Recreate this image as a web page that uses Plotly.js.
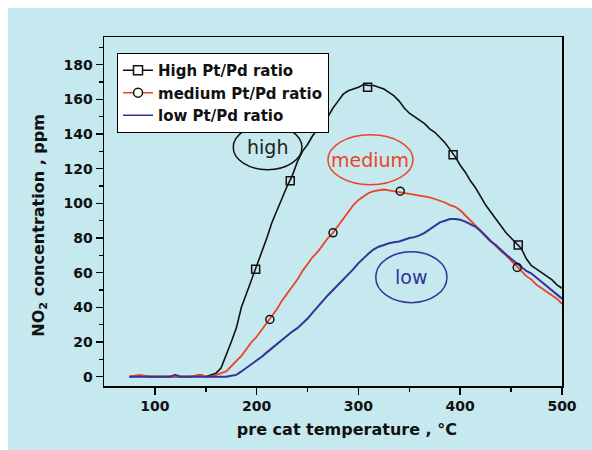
<!DOCTYPE html>
<html>
<head>
<meta charset="utf-8">
<script src="https://cdn.plot.ly/plotly-3.0.1.min.js"></script>
<style>
  html, body { margin: 0; padding: 0; background: #ffffff; }
  #chart { position: absolute; left: 8px; top: 8px; width: 584px; height: 442px; }
</style>
</head>
<body>
<div id="chart"></div>
<script>
// temperatures (°C)
const highX = [75, 85, 95, 105, 115, 125, 135, 145, 150, 155, 160, 165, 170, 175, 180, 185, 190, 195, 200, 205, 210, 215, 220, 225, 230, 235, 240, 245, 250, 255, 260, 265, 270, 275, 280, 285, 290, 295, 300, 305, 310, 315, 320, 325, 330, 335, 340, 345, 350, 355, 360, 365, 370, 375, 380, 385, 390, 395, 400, 405, 410, 415, 420, 425, 430, 435, 440, 445, 450, 455, 460, 465, 470, 475, 480, 485, 490, 495, 500];
const highY = [0, 0.5, 0, 0, 0, 0, 0, 1, 0, 1, 2, 5, 12, 20, 28, 40, 48, 56, 63, 71, 80, 89, 96, 104, 110, 116, 124, 130, 134, 139, 143, 147, 150, 155, 159, 163, 165, 166, 167, 168.5, 168, 168, 167, 166, 164, 162, 159, 155, 152, 150, 148, 146, 143, 141, 138, 135, 131, 127, 122, 118, 113, 109, 104, 99, 95, 91, 87, 83, 80, 77, 74, 68, 64, 62, 60, 58, 56, 53, 51];

const medX = [75, 85, 95, 105, 115, 125, 135, 145, 150, 155, 160, 165, 170, 175, 180, 185, 190, 195, 200, 205, 210, 215, 220, 225, 230, 235, 240, 245, 250, 255, 260, 265, 270, 275, 280, 285, 290, 295, 300, 305, 310, 315, 320, 325, 330, 335, 340, 345, 350, 355, 360, 365, 370, 375, 380, 385, 390, 395, 400, 405, 410, 415, 420, 425, 430, 435, 440, 445, 450, 455, 460, 465, 470, 475, 480, 485, 490, 495, 500];
const medY = [0, 1, 0, 0, 0, 0, 0, 1, 0, 0, 1, 2, 3, 6, 9, 12, 16, 20, 23, 27, 31, 35, 39, 44, 48, 52, 56, 61, 65, 69, 72, 76, 80, 83, 87, 91, 95, 99, 102, 104, 106, 107, 107.5, 108, 107.5, 107, 106.5, 106, 105.5, 105, 104.5, 104, 103.5, 102.5, 101.5, 100.5, 99, 98, 96, 93, 90, 87, 84, 81, 78, 75, 72.5, 70, 67, 64, 61, 58, 56, 53, 51, 49, 47, 45, 42];

const lowX = [75, 85, 95, 105, 115, 120, 125, 135, 145, 155, 165, 170, 175, 180, 185, 190, 195, 200, 205, 210, 215, 220, 225, 230, 235, 240, 245, 250, 255, 260, 265, 270, 275, 280, 285, 290, 295, 300, 305, 310, 315, 320, 325, 330, 335, 340, 345, 350, 355, 360, 365, 370, 375, 380, 385, 390, 395, 400, 405, 410, 415, 420, 425, 430, 435, 440, 445, 450, 455, 460, 465, 470, 475, 480, 485, 490, 495, 500];
const lowY = [0, 0, 0, 0, 0, 1, 0, 0, 0, 0, 0, 0, 0.5, 1, 3, 5, 7, 9, 11.5, 14, 16.5, 19, 21.5, 24, 26, 28, 30.5, 33.5, 37, 40.5, 44, 47, 50, 53, 56, 58.5, 62, 65.5, 68.5, 71, 73.5, 75, 76, 77, 77.5, 78, 79, 80, 80.5, 81.5, 83, 85, 87, 89, 90, 91, 91, 90.5, 89.5, 88, 86.5, 84, 81, 78, 76, 73, 70.5, 68, 65.5, 63.5, 61, 59.5, 57, 55, 52, 50, 47.5, 45];

// symbol markers
const highMarkX = [199, 233, 309, 393, 457];
const highMarkY = [62, 113, 167, 128, 76];
const medMarkX = [213, 275, 341, 456];
const medMarkY = [33, 83, 107, 63];

const seriesNames = ['High Pt/Pd ratio', 'medium Pt/Pd ratio', 'low Pt/Pd ratio'];
const bubbleLabels = ['high', 'medium', 'low'];
const xTitle = 'pre cat temperature , °C';
const yTitle = 'NO<sub>2</sub> concentration , ppm';

const cBlack = '#111111', cRed = '#ec4326', cBlue = '#33339a';
const FB = 'DejaVu Sans, Verdana, sans-serif';
const pad = '&nbsp;&nbsp;&nbsp;&nbsp;&nbsp;';

const traces = [
  {x: highX, y: highY, mode: 'lines', line: {color: cBlack, width: 1.6}, showlegend: false, hoverinfo: 'skip'},
  {x: medX, y: medY, mode: 'lines', line: {color: cRed, width: 1.8}, showlegend: false, hoverinfo: 'skip'},
  {x: lowX, y: lowY, mode: 'lines', line: {color: cBlue, width: 2}, showlegend: false, hoverinfo: 'skip'},
  {x: highMarkX, y: highMarkY, mode: 'markers', marker: {symbol: 'square-open', size: 8, color: cBlack, line: {width: 1.5, color: cBlack}}, showlegend: false},
  {x: medMarkX, y: medMarkY, mode: 'markers', marker: {symbol: 'circle-open', size: 8, color: cBlack, line: {width: 1.5, color: cBlack}}, showlegend: false},
  {x: [null], y: [null], name: seriesNames[0], mode: 'lines+markers', line: {color: cBlack, width: 1.5}, marker: {symbol: 'square', size: 9, color: '#ffffff', line: {width: 1.5, color: cBlack}}},
  {x: [null], y: [null], name: seriesNames[1], mode: 'lines+markers', line: {color: cRed, width: 1.5}, marker: {symbol: 'circle', size: 9, color: '#ffffff', line: {width: 1.5, color: cBlack}}},
  {x: [null], y: [null], name: seriesNames[2], mode: 'lines', line: {color: cBlue, width: 1.5}}
];

const tickFont = {family: FB, size: 14, color: '#111', weight: 'bold'};
const titleFont = {family: FB, size: 16, color: '#111', weight: 'bold'};

const layout = {
  width: 584, height: 442,
  margin: {l: 96, r: 30, t: 29, b: 64},
  paper_bgcolor: '#c6e8ef',
  plot_bgcolor: '#c6e8ef',
  showlegend: true,
  legend: {
    x: 0.028, y: 0.955, xanchor: 'left', yanchor: 'top',
    bgcolor: '#ffffff', bordercolor: '#000000', borderwidth: 1.2,
    font: {family: FB, size: 15, color: '#111', weight: 'bold'},
    tracegroupgap: 0, itemwidth: 30
  },
  xaxis: {
    range: [50, 500], tickvals: [100, 200, 300, 400, 500], ticks: 'outside', ticklen: 7, tickwidth: 1.5,
    tickcolor: '#000', showline: true, linecolor: '#000', linewidth: 1.5, mirror: true,
    showgrid: false, zeroline: false,
    tickfont: tickFont,
    minor: {tickvals: [150, 250, 350, 450], ticks: 'outside', ticklen: 4, tickwidth: 1.5, tickcolor: '#000'},
    title: {text: pad + xTitle, font: titleFont, standoff: 10}
  },
  yaxis: {
    range: [-5.4, 196], tickvals: [0, 20, 40, 60, 80, 100, 120, 140, 160, 180], ticks: 'outside', ticklen: 7, tickwidth: 1.5,
    tickcolor: '#000', showline: true, linecolor: '#000', linewidth: 1.5, mirror: true,
    showgrid: false, zeroline: false,
    tickfont: tickFont,
    minor: {tickvals: [10, 30, 50, 70, 90, 110, 130, 150, 170, 190], ticks: 'outside', ticklen: 4, tickwidth: 1.5, tickcolor: '#000'},
    title: {text: yTitle + pad, font: titleFont, standoff: 15}
  },
  shapes: [
    {type: 'circle', xref: 'x', yref: 'y', x0: 177, x1: 244.5, y0: 119.4, y1: 145.4, line: {color: '#111', width: 1.5}},
    {type: 'circle', xref: 'x', yref: 'y', x0: 270, x1: 353.6, y0: 110.8, y1: 139.6, line: {color: cRed, width: 1.5}},
    {type: 'circle', xref: 'x', yref: 'y', x0: 317, x1: 387, y0: 42.7, y1: 72.1, line: {color: cBlue, width: 1.5}}
  ],
  annotations: [
    {x: 210.7, y: 132.4, xref: 'x', yref: 'y', text: bubbleLabels[0], showarrow: false, font: {family: FB, size: 19, color: '#222'}},
    {x: 311.8, y: 125.2, xref: 'x', yref: 'y', text: bubbleLabels[1], showarrow: false, font: {family: FB, size: 19, color: cRed}},
    {x: 352, y: 57.4, xref: 'x', yref: 'y', text: bubbleLabels[2], showarrow: false, font: {family: FB, size: 19, color: cBlue}}
  ]
};

Plotly.newPlot('chart', traces, layout, {staticPlot: true, displayModeBar: false});
</script>
</body>
</html>
